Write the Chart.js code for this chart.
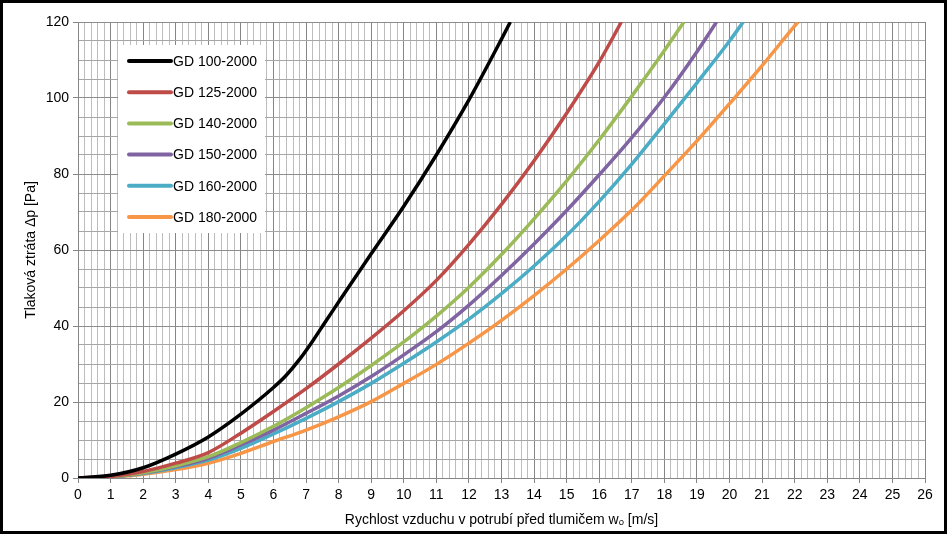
<!DOCTYPE html>
<html>
<head>
<meta charset="utf-8">
<title>Tlaková ztráta GD</title>
<script src="https://cdn.jsdelivr.net/npm/chart.js@4"></script>
<style>
  html, body { margin: 0; padding: 0; background: #fff; }
  #wrap { width: 947px; height: 534px; box-sizing: border-box; border: 3px solid #000; background: #fff; }
  canvas { display: block; }
</style>
</head>
<body>
<div id="wrap"><canvas id="lossChart" width="941" height="528"></canvas></div>
<script>
// series names
const seriesNames = ['GD 100-2000', 'GD 125-2000', 'GD 140-2000', 'GD 150-2000', 'GD 160-2000', 'GD 180-2000'];

// air speed w [m/s] and pressure loss dp [Pa]
const speedGD100 = [0, 1, 2, 3, 4, 5, 6, 6.4, 6.8, 7.2, 7.6, 8, 9, 10, 11, 12, 13, 13.27];
const lossGD100  = [0, 0.7, 2.7, 6.3, 10.8, 16.8, 23.8, 27.1, 31.2, 36, 41.2, 46.3, 59, 71.5, 85, 99.5, 115.5, 120];

const speedGD125 = [0, 1, 2, 3, 4, 5, 6, 7, 8, 9, 10, 11, 12, 13, 14, 15, 16, 16.68];
const lossGD125  = [0, 0.4, 1.7, 3.9, 6.7, 11.8, 17.5, 23.5, 30, 36.8, 44, 52, 61.5, 72, 83.5, 96, 109.5, 120];

const speedGD140 = [0, 1, 2, 3, 4, 5, 6, 7, 8, 9, 10, 11, 12, 13, 14, 15, 16, 17, 18, 18.6];
const lossGD140  = [0, 0.35, 1.4, 3.2, 5.6, 9.3, 13.6, 18.5, 23.8, 29.6, 35.8, 42.6, 50.2, 58.8, 68.2, 78.2, 89, 100.5, 112.5, 120];

const speedGD150 = [0, 1, 2, 3, 4, 5, 6, 7, 8, 9, 10, 11, 12, 13, 14, 15, 16, 17, 18, 19, 19.6];
const lossGD150  = [0, 0.3, 1.3, 3, 5.2, 8.7, 12.6, 17, 21.6, 26.7, 32.4, 38.5, 45.5, 53.3, 61.6, 70.4, 79.8, 89.6, 100.2, 112.2, 120];

const speedGD160 = [0, 1, 2, 3, 4, 5, 6, 7, 8, 9, 10, 11, 12, 13, 14, 15, 16, 17, 18, 19, 20, 20.42];
const lossGD160  = [0, 0.3, 1.2, 2.7, 4.7, 7.8, 11.6, 15.7, 20.1, 24.9, 30.2, 35.8, 41.8, 48.5, 55.8, 63.8, 72.8, 82.6, 93.2, 104, 115, 120];

const speedGD180 = [0, 1, 2, 3, 4, 5, 6, 7, 8, 9, 10, 11, 12, 13, 14, 15, 16, 17, 18, 19, 20, 21, 22, 22.1];
const lossGD180  = [0, 0.25, 1, 2.2, 3.9, 6.5, 9.6, 12.6, 16.1, 20.1, 24.9, 29.9, 35.5, 41.5, 48, 55, 62.5, 70.5, 79.5, 88.7, 98.5, 108.5, 119, 120];

// axis ranges / tick labels
const speedMin = 0, speedMax = 26, speedMinorStep = 0.2;
const lossMin = 0, lossMax = 120, lossMinorStep = 5, lossLabelStep = 20;

const speeds = [speedGD100, speedGD125, speedGD140, speedGD150, speedGD160, speedGD180];
const losses = [lossGD100, lossGD125, lossGD140, lossGD150, lossGD160, lossGD180];
const colors = ['#000000', '#BE4B48', '#9BBB59', '#8064A2', '#4BACC6', '#F79646'];

const FONT = '"Liberation Sans", Arial, sans-serif';

// legend box drawn inside plot area
const innerLegend = {
  id: 'innerLegend',
  afterDraw(chart) {
    const { ctx, chartArea } = chart;
    const x = chartArea.left + 40;
    const y = chartArea.top + 23;
    ctx.save();
    ctx.fillStyle = '#fff';
    ctx.fillRect(x, y, 147, 188);
    ctx.font = '14px ' + FONT;
    ctx.textBaseline = 'middle';
    chart.data.datasets.forEach((ds, i) => {
      const rowY = y + 16 + i * 31.2;
      ctx.strokeStyle = ds.borderColor;
      ctx.lineWidth = 4;
      ctx.lineCap = 'round';
      ctx.beginPath();
      ctx.moveTo(x + 11, rowY);
      ctx.lineTo(x + 53, rowY);
      ctx.stroke();
      ctx.fillStyle = '#000';
      ctx.fillText(ds.label, x + 55, rowY + 1);
    });
    ctx.restore();
  }
};

const isWhole = (v) => Math.abs(v - Math.round(v)) < 1e-9;

document.addEventListener('DOMContentLoaded', () => {
  const ctx = document.getElementById('lossChart').getContext('2d');

  new Chart(ctx, {
    type: 'line',
    data: {
      datasets: seriesNames.map((name, i) => ({
        label: name,
        data: speeds[i].map((w, j) => ({ x: w, y: losses[i][j] })),
        borderColor: colors[i],
        backgroundColor: colors[i],
        borderWidth: 3.5,
        pointRadius: 0,
        cubicInterpolationMode: 'monotone',
        fill: false
      }))
    },
    options: {
      responsive: false,
      animation: false,
      devicePixelRatio: 1,
      layout: { padding: { left: 0, right: 19, top: 19, bottom: 0 } },
      plugins: {
        legend: { display: false },
        tooltip: { enabled: false }
      },
      scales: {
        x: {
          type: 'linear',
          min: speedMin,
          max: speedMax,
          afterFit: (s) => { s.height = 53; },
          ticks: {
            stepSize: speedMinorStep,
            autoSkip: false,
            maxRotation: 0,
            padding: 4,
            color: '#000',
            font: { family: FONT, size: 14 },
            callback: (v) => isWhole(v) ? Math.round(v) : ''
          },
          grid: {
            color: (c) => isWhole(c.tick.value) ? '#868686' : '#bdbdbd',
            tickColor: (c) => isWhole(c.tick.value) ? '#868686' : 'rgba(0,0,0,0)',
            tickLength: 5
          },
          border: { color: '#868686', width: 1 },
          title: {
            display: true,
            text: 'Rychlost vzduchu v potrubí před tlumičem wₒ [m/s]',
            color: '#000',
            font: { family: FONT, size: 14 },
            padding: { top: 0, bottom: 2 }
          }
        },
        y: {
          type: 'linear',
          min: lossMin,
          max: lossMax,
          afterFit: (s) => { s.width = 75; },
          ticks: {
            stepSize: lossMinorStep,
            autoSkip: false,
            padding: 4,
            color: '#000',
            font: { family: FONT, size: 14 },
            callback: (v) => v % lossLabelStep === 0 ? v : ''
          },
          grid: {
            color: (c) => c.tick.value % lossLabelStep === 0 ? '#8c8c8c' : '#a6a6a6',
            tickColor: (c) => c.tick.value % lossLabelStep === 0 ? '#868686' : 'rgba(0,0,0,0)',
            tickLength: 5
          },
          border: { color: '#868686', width: 1 },
          title: {
            display: true,
            text: 'Tlaková ztráta Δp [Pa]',
            color: '#000',
            font: { family: FONT, size: 14 },
            padding: { top: 20, bottom: 0 }
          }
        }
      }
    },
    plugins: [innerLegend]
  });
});
</script>
</body>
</html>
